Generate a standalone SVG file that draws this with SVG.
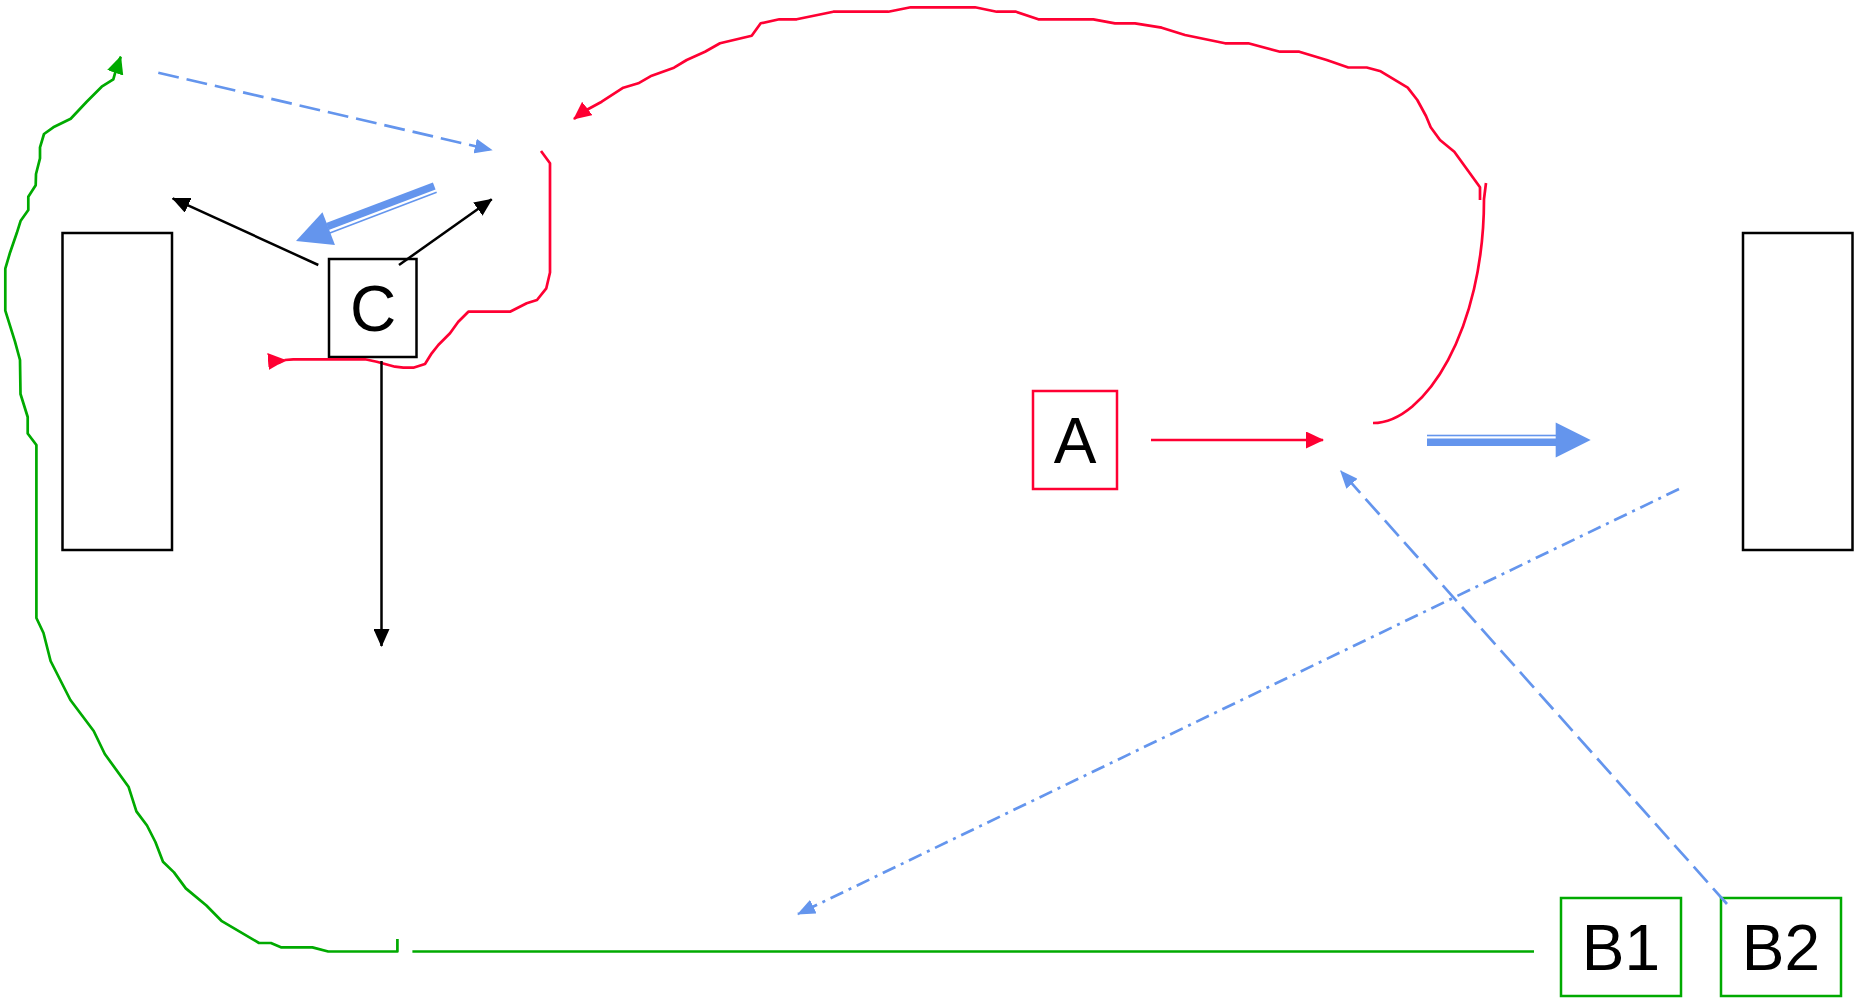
<svg xmlns="http://www.w3.org/2000/svg" width="1861" height="998" viewBox="0 0 1861 998">
<style>
.box{fill:#fff;stroke:#000;stroke-width:2.5}
.nodeR{fill:#fff;stroke:#ff0033;stroke-width:2.5}
.nodeG{fill:#fff;stroke:#00aa00;stroke-width:2.5}
.nodeK{fill:#fff;stroke:#000;stroke-width:2.5}
.lbl{font-family:"Liberation Sans",Arial,sans-serif;font-size:64px;fill:#000;text-anchor:middle}
.red{fill:none;stroke:#ff0033;stroke-width:2.7;stroke-linejoin:round}
.grn{fill:none;stroke:#00aa00;stroke-width:2.7;stroke-linejoin:round}
.blk{fill:none;stroke:#000;stroke-width:2.5}
.bdash{fill:none;stroke:#6495ed;stroke-width:2.7;stroke-dasharray:21 8}
.bdashdot{fill:none;stroke:#6495ed;stroke-width:2.7;stroke-dasharray:14 6 3 6}
.blue{fill:#6495ed}
</style>
<defs>
<marker id="hK" markerUnits="userSpaceOnUse" markerWidth="18" markerHeight="16" viewBox="0 0 18 16" refX="17" refY="8" orient="auto"><path d="M0,0L18,8L0,16Z" fill="#000"/></marker>
<marker id="hR" markerUnits="userSpaceOnUse" markerWidth="18" markerHeight="17" viewBox="0 0 18 17" refX="17" refY="8.5" orient="auto"><path d="M0,0L18,8.5L0,17Z" fill="#ff0033"/></marker>
<marker id="hG" markerUnits="userSpaceOnUse" markerWidth="18" markerHeight="17" viewBox="0 0 18 17" refX="17" refY="8.5" orient="auto-start-reverse"><path d="M0,0L18,8.5L0,17Z" fill="#00aa00"/></marker>
<marker id="hB" markerUnits="userSpaceOnUse" markerWidth="18" markerHeight="15" viewBox="0 0 18 15" refX="17" refY="7.5" orient="auto"><path d="M0,0L18,7.5L0,15Z" fill="#6495ed"/></marker>
</defs>

<g id="rect-left"><rect class="box" x="62.5" y="233" width="109.5" height="317"/></g>
<g id="rect-right"><rect class="box" x="1743" y="233" width="109.5" height="317"/></g>
<g id="node-C"><rect class="nodeK" x="329" y="259" width="87.5" height="98"/><text class="lbl" x="373" y="331">C</text></g>
<g id="node-A"><rect class="nodeR" x="1033" y="391" width="84" height="98"/><text class="lbl" x="1075" y="463">A</text></g>
<g id="node-B1"><rect class="nodeG" x="1561" y="898" width="120" height="98"/><text class="lbl" x="1621" y="970">B1</text></g>
<g id="node-B2"><rect class="nodeG" x="1721" y="898" width="120" height="98"/><text class="lbl" x="1781" y="970">B2</text></g>

<g id="connectors">
<path class="red" d="M1151,440 H1323" marker-end="url(#hR)"/>
<path class="red" d="M1373,423 C1425,423 1484,330 1484,199 L1486,183"/>
<path class="red" marker-end="url(#hR)" d="M1480,200 L1480,187.3 L1454.3,151.7 L1440,140 L1430.7,127.3 L1426,116 L1417.3,100 L1407.7,87.7 L1380.7,71.3 L1366.7,67.5 L1348.3,67.5 L1326.7,60 L1299.3,51.7 L1280,51.7 L1248.3,43.3 L1225,43.3 L1185,35 L1161.7,27.7 L1135,23.3 L1115,23.3 L1093.3,19.3 L1038.3,19.3 L1016,11.7 L996.7,11.7 L975,7.3 L910.7,7.3 L888.3,11.7 L833.3,11.7 L796.7,19.3 L779.3,19.3 L760.7,23.3 L751.7,35.7 L720,43.3 L705,51.7 L686.7,60 L674,67.7 L651.7,75.7 L638.3,83.3 L623.3,87.7 L601.7,101.7 L583.3,111.7 L574,119"/>
<path class="red" marker-start="url(#hR)" d="M285,360 L293.3,359.3 L365,359.3 L376.7,361.7 L395,366.7 L403.3,367.7 L413.3,367.7 L425,364 L431.7,353.3 L438.3,345 L450,333.3 L458.3,321.7 L468.3,311.7 L510,311.7 L526.7,303.3 L537,300 L546.3,288.3 L550,272.5 L550,163.3 L541,151"/>
<path class="red" d="M285,360 L278,363.3"/>

<path class="grn" marker-start="url(#hG)" d="M120.7,56.7 L115,73.3 L113.3,79.3 L101.7,86.7 L86.7,101.7 L70.7,118.7 L53.3,127.3 L44,134 L40,147.3 L40,158.3 L36,174 L35.7,185.3 L28.3,196.7 L28.3,210 L20.7,220.7 L16.7,233.3 L10,252.7 L5.3,268.7 L5.3,310.7 L15,341.7 L20,360 L20.5,394 L27.7,417 L27.7,433.5 L36.4,445 L36.4,618 L43.5,633 L50.6,661 L70.4,700 L93.7,731 L104.8,754 L128.5,786.7 L136.4,811.4 L147,825.5 L155.4,842 L163,861.7 L174,872.4 L185.8,888.4 L206.4,905.5 L221.4,920.8 L259,943 L270.9,943 L281.5,947.4 L312.4,947.4 L328.2,951.5 L397.4,951.5 L397.4,939"/>
<path class="grn" d="M412.4,951.5 H1534"/>

<path class="blk" d="M318.3,265 L172.7,198.3" marker-end="url(#hK)"/>
<path class="blk" d="M399,265 L491.7,199.3" marker-end="url(#hK)"/>
<path class="blk" d="M381.5,361 V646" marker-end="url(#hK)"/>

<path class="bdash" d="M158.3,72.7 L491.7,150" marker-end="url(#hB)"/>
<path class="bdash" d="M1727,904 L1340.7,471" marker-end="url(#hB)"/>
<path class="bdashdot" d="M1679,489 L798,914" marker-end="url(#hB)"/>

<g transform="translate(1590.7,440)">
<rect class="blue" x="-163.7" y="-5.3" width="129" height="1.6"/>
<rect class="blue" x="-163.7" y="-1.5" width="129" height="7.5"/>
<path class="blue" d="M-35,-17.5 L0,0 L-35,17.5Z"/>
</g>
<g transform="translate(296,241) rotate(159.13)">
<rect class="blue" x="-148.8" y="-5.3" width="114.3" height="1.6"/>
<rect class="blue" x="-148.8" y="-1.5" width="114.3" height="7.5"/>
<path class="blue" d="M-35,-17.5 L0,0 L-35,17.5Z"/>
</g>
</g>
</svg>
